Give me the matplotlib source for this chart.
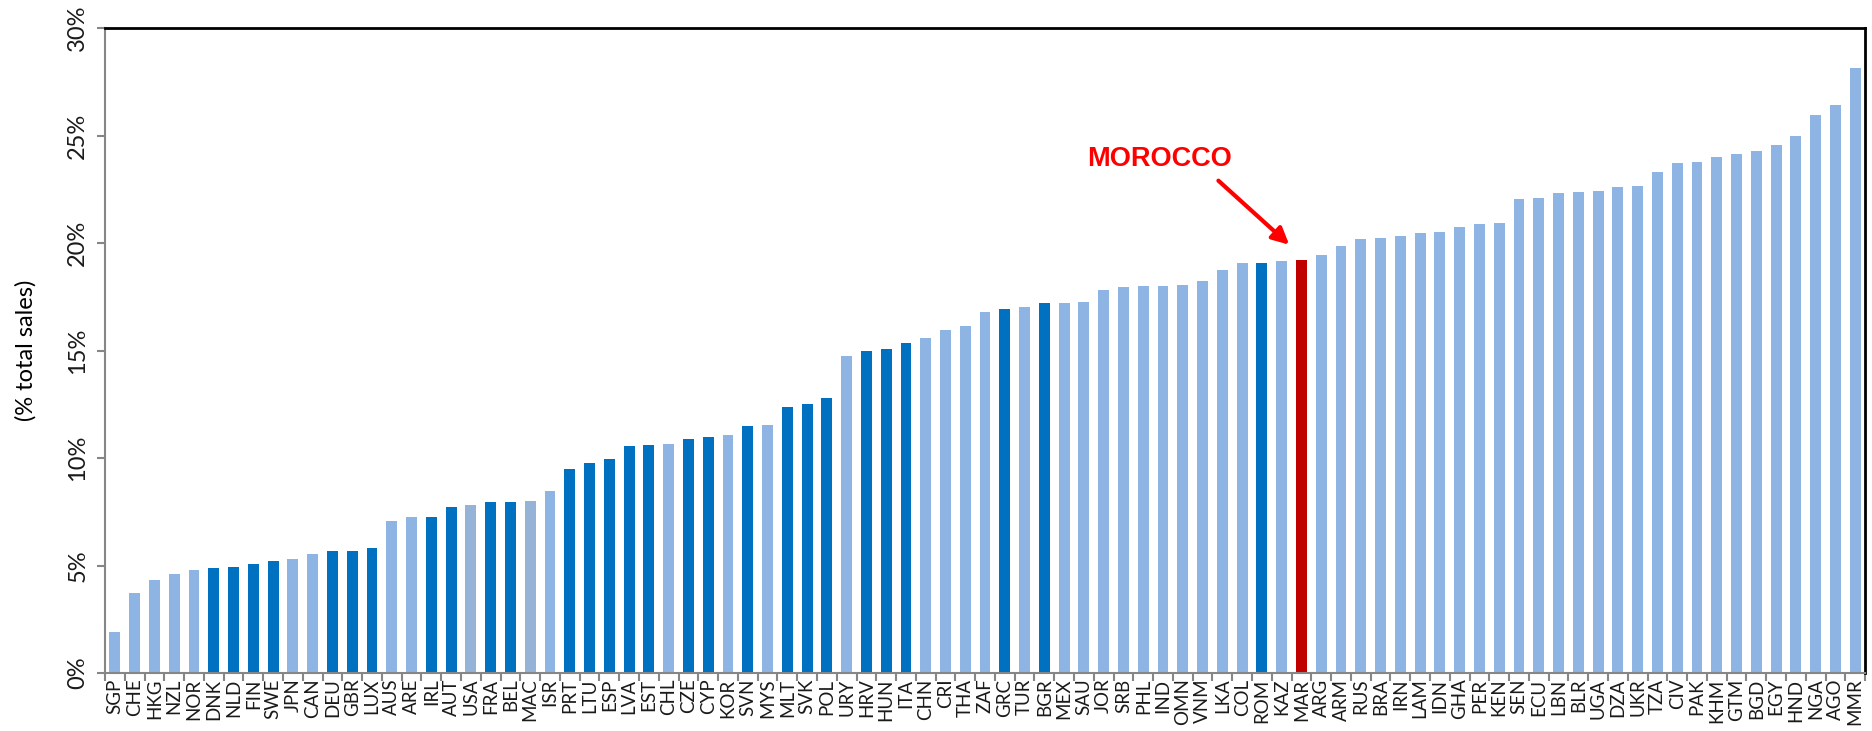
import matplotlib
matplotlib.use('Agg')
import matplotlib.pyplot as plt
import numpy as np

# countries, sorted by value
countries = ['SGP', 'CHE', 'HKG', 'NZL', 'NOR', 'DNK', 'NLD', 'FIN', 'SWE', 'JPN',
             'CAN', 'DEU', 'GBR', 'LUX', 'AUS', 'ARE', 'IRL', 'AUT', 'USA', 'FRA',
             'BEL', 'MAC', 'ISR', 'PRT', 'LTU', 'ESP', 'LVA', 'EST', 'CHL', 'CZE',
             'CYP', 'KOR', 'SVN', 'MYS', 'MLT', 'SVK', 'POL', 'URY', 'HRV', 'HUN',
             'ITA', 'CHN', 'CRI', 'THA', 'ZAF', 'GRC', 'TUR', 'BGR', 'MEX', 'SAU',
             'JOR', 'SRB', 'PHL', 'IND', 'OMN', 'VNM', 'LKA', 'COL', 'ROM', 'KAZ',
             'MAR', 'ARG', 'ARM', 'RUS', 'BRA', 'IRN', 'LAM', 'IDN', 'GHA', 'PER',
             'KEN', 'SEN', 'ECU', 'LBN', 'BLR', 'UGA', 'DZA', 'UKR', 'TZA', 'CIV',
             'PAK', 'KHM', 'GTM', 'BGD', 'EGY', 'HND', 'NGA', 'AGO', 'MMR']

# share of total sales (%)
share = [1.89, 3.72, 4.31, 4.60, 4.80, 4.87, 4.93, 5.08, 5.19, 5.30,
         5.53, 5.69, 5.69, 5.80, 7.08, 7.24, 7.24, 7.73, 7.80, 7.97,
         7.97, 8.01, 8.46, 9.50, 9.78, 9.95, 10.56, 10.62, 10.67, 10.88,
         11.00, 11.05, 11.49, 11.55, 12.39, 12.49, 12.77, 14.74, 14.98, 15.08,
         15.36, 15.58, 15.97, 16.14, 16.80, 16.91, 17.02, 17.19, 17.19, 17.26,
         17.80, 17.95, 18.01, 18.01, 18.07, 18.23, 18.74, 19.07, 19.07, 19.18,
         19.22, 19.44, 19.84, 20.17, 20.23, 20.34, 20.47, 20.51, 20.73, 20.90,
         20.94, 22.05, 22.11, 22.33, 22.39, 22.43, 22.62, 22.66, 23.31, 23.70,
         23.77, 23.98, 24.15, 24.26, 24.54, 24.98, 25.97, 26.42, 28.12]

eu_members = ['DNK', 'NLD', 'FIN', 'SWE', 'DEU', 'GBR', 'LUX', 'IRL', 'AUT', 'FRA',
              'BEL', 'PRT', 'LTU', 'ESP', 'LVA', 'EST', 'CZE', 'CYP', 'SVN', 'MLT',
              'SVK', 'POL', 'HRV', 'HUN', 'ITA', 'GRC', 'BGR', 'ROM']
grey_group = ['USA', 'MAC']
highlight = 'MAR'
highlight_label = 'MOROCCO'

yticks = [0, 5, 10, 15, 20, 25, 30]
ytick_labels = ['0%', '5%', '10%', '15%', '20%', '25%', '30%']

colors = []
for c in countries:
  if c == highlight: colors.append('#C00000')
  elif c in eu_members: colors.append('#0070C0')
  elif c in grey_group: colors.append('#95B3D7')
  else: colors.append('#8EB4E3')

fig = plt.figure(figsize=(18.72, 7.31), dpi=100)
ax = fig.add_axes([0.0561, 0.0793, 0.9402, 0.8824])

x = np.arange(len(countries))
ax.bar(x, share, width=0.55, color=colors, edgecolor='none', zorder=2)

ax.set_xlim(-0.5, len(countries) - 0.5)
ax.set_ylim(0, 30)

# category labels, ticks on the boundaries like excel
ax.set_xticks(x)
ax.set_xticklabels(countries, rotation=90, fontsize=13.5, family=['Lato', 'DejaVu Sans'], color='#1a1a1a')
ax.set_xticks(np.arange(len(countries) + 1) - 0.5, minor=True)
ax.tick_params(axis='x', which='major', length=0, pad=4)
ax.tick_params(axis='x', which='minor', length=6, width=1.5, color='#868686', direction='out')

ax.set_yticks(yticks)
ax.set_yticklabels(ytick_labels, rotation=90, va='center', fontsize=17, family=['Lato', 'DejaVu Sans'], color='#1a1a1a')
ax.tick_params(axis='y', length=6, width=1.5, color='#868686', direction='out', pad=6)
ax.set_ylabel('(% total sales)', fontsize=17, family=['Lato', 'DejaVu Sans'], labelpad=22)

ax.spines['left'].set_color('#868686')
ax.spines['bottom'].set_color('#868686')
ax.spines['left'].set_linewidth(1.5)
ax.spines['bottom'].set_linewidth(1.5)
ax.spines['top'].set_color('black')
ax.spines['right'].set_color('black')
ax.spines['top'].set_linewidth(2)
ax.spines['right'].set_linewidth(2)

#morocco callout
mar = countries.index(highlight)
ax.text(mar - 7.2, 23.9, highlight_label, color='red', fontsize=19.5, fontweight='bold',
        family=['Liberation Sans', 'DejaVu Sans'], ha='center', va='center')
ax.annotate('', xy=(mar - 0.62, share[mar] + 0.7), xytext=(mar - 4.2, 22.9),
            arrowprops=dict(arrowstyle='-|>', color='red', lw=3, mutation_scale=25,
                            shrinkA=0, shrinkB=0))

plt.savefig('out.png', dpi=100)
